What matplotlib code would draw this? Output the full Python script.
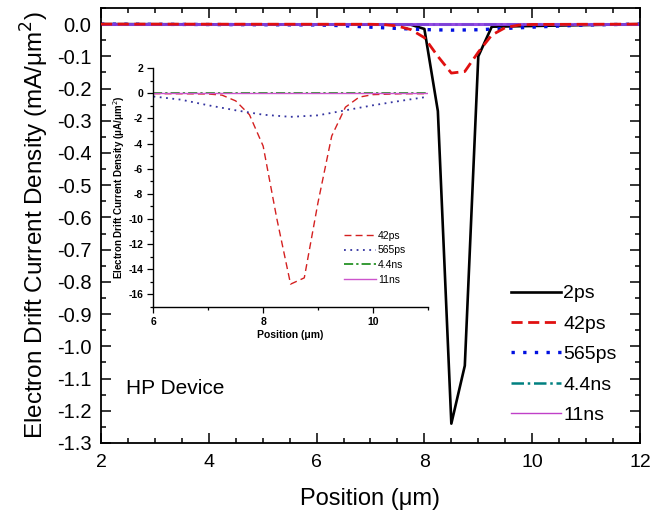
import numpy as np
import matplotlib
matplotlib.use("Agg")
import matplotlib.pyplot as plt
from matplotlib.ticker import MultipleLocator

plt.rcParams['font.family'] = ['Liberation Sans', 'DejaVu Sans']
plt.rcParams['axes.unicode_minus'] = False

# === Main panel data: drift current density, mA/um^2 ===
pos_2ps = [2.0, 7.75, 8.0, 8.25, 8.5, 8.75, 9.0, 9.25, 12.0]
j_2ps = [0.0, -0.002, -0.015, -0.27, -1.24, -1.06, -0.10, -0.008, 0.0]

pos_42ps = [2.0, 7.0, 7.25, 7.5, 7.75, 8.0, 8.25, 8.5, 8.75, 9.0, 9.25,
            9.5, 9.75, 10.0, 12.0]
j_42ps = [0.0, -0.0005, -0.0014, -0.006, -0.017, -0.042, -0.100, -0.152,
          -0.147, -0.087, -0.034, -0.011, -0.003, -0.001, 0.0]

pos_565ps = [2.0, 6.0, 6.5, 7.0, 7.5, 8.0, 8.5, 9.0, 9.5, 10.0, 10.5, 11.0, 12.0]
j_565ps = [0.0, -0.0025, -0.005, -0.0095, -0.0135, -0.017, -0.0187, -0.0175,
           -0.0135, -0.0095, -0.006, -0.0027, 0.0]

pos_flat = [2.0, 12.0]
j_44ns = [0.0, 0.0]
j_11ns = [0.0, 0.0]

# === Inset data: drift current density, uA/um^2 ===
in_pos_42ps = [6.0, 6.5, 7.0, 7.25, 7.5, 7.75, 8.0, 8.25, 8.5, 8.75, 9.0,
               9.25, 9.5, 9.75, 10.0, 10.5, 11.0]
in_j_42ps = [-0.02, -0.03, -0.05, -0.14, -0.6, -1.7, -4.2, -10.0, -15.2,
             -14.7, -8.7, -3.4, -1.1, -0.3, -0.1, -0.03, -0.02]

in_pos_565ps = [6.0, 6.5, 7.0, 7.5, 8.0, 8.5, 9.0, 9.5, 10.0, 10.5, 11.0]
in_j_565ps = [-0.25, -0.5, -0.95, -1.35, -1.7, -1.87, -1.75, -1.35, -0.95,
              -0.6, -0.27]

in_pos_flat = [6.0, 11.0]
in_j_44ns = [0.0, 0.0]
in_j_11ns = [0.0, 0.0]


fig = plt.figure(figsize=(6.61, 5.13), dpi=100)

# --- main axes ---
ax = fig.add_axes([0.1528, 0.1365, 0.8154, 0.8479])
ax.plot(pos_2ps, j_2ps, color='black', lw=1.9, label='2ps', zorder=2.0)
ax.plot(pos_42ps, j_42ps, color='#e01010', lw=2.0, ls=(0, (4, 2)), label='42ps', zorder=2.9)
ax.plot(pos_565ps, j_565ps, color='#0010e0', lw=2.4, ls=(0, (1, 2.5)), label='565ps', zorder=2.1)
ax.plot(pos_flat, j_44ns, color='#008080', lw=1.8, ls=(0, (5, 1.5, 1, 1.5)), label='4.4ns', zorder=2.2)
# 11ns lies on the zero line over the other traces; drawn wider so the
# overlapped zero line reads as one violet stroke
ax.plot(pos_flat, j_11ns, color='#8a3ae0', lw=2.2, alpha=0.9, label='11ns', zorder=2.5)

ax.set_xlim(2, 12)
ax.set_ylim(-1.3, 0.05)
ax.xaxis.set_major_locator(MultipleLocator(2))
ax.xaxis.set_minor_locator(MultipleLocator(0.5))
ax.yaxis.set_major_locator(MultipleLocator(0.1))
ax.yaxis.set_minor_locator(MultipleLocator(0.05))
ax.yaxis.set_major_formatter(plt.FuncFormatter(lambda v, p: f'{v:.1f}' if abs(v) > 1e-9 else '0.0'))
ax.tick_params(which='both', direction='in', top=True, right=True, width=1.1)
ax.tick_params(which='major', length=7)
ax.tick_params(which='minor', length=3.5)
ax.tick_params(axis='x', labelsize=14, pad=8)
ax.tick_params(axis='y', labelsize=14.5, pad=7)
for s in ax.spines.values():
    s.set_linewidth(1.3)

ax.set_xlabel('Position (\u03bcm)', fontsize=17, labelpad=12)
ax.set_ylabel('Electron Drift Current Density (mA/\u03bcm$^2$)', fontsize=17.5, labelpad=4)
ax.text(0.046, 0.126, 'HP Device', transform=ax.transAxes, fontsize=15,
        va='center', ha='left')

leg = ax.legend(loc='upper left', bbox_to_anchor=(0.735, 0.395), frameon=False,
                fontsize=14, handlelength=2.6, handletextpad=0.1,
                labelspacing=0.66, borderpad=0.2)
# legend key for 11ns is a thin magenta line
h11 = leg.get_lines()[-1]
h11.set_alpha(1.0)
h11.set_color('#c040c8')
h11.set_linewidth(1.0)

# --- inset ---
axi = fig.add_axes([0.2322, 0.4021, 0.4148, 0.4648])
axi.plot(in_pos_42ps, in_j_42ps, color='#d42020', lw=1.0, ls=(0, (5, 3)), label='42ps')
axi.plot(in_pos_565ps, in_j_565ps, color='#3333a0', lw=1.3, ls=(0, (1, 2.5)), label='565ps')
axi.plot(in_pos_flat, in_j_44ns, color='#008000', lw=1.1, ls=(0, (6, 2, 1.5, 2)), label='4.4ns')
axi.plot(in_pos_flat, in_j_11ns, color='#cc55cc', lw=1.0, label='11ns')

axi.set_xlim(6, 11)
axi.set_ylim(-17, 2)
axi.set_facecolor('none')
axi.spines['top'].set_visible(False)
axi.spines['right'].set_visible(False)
for s in ('left', 'bottom'):
    axi.spines[s].set_linewidth(1.0)
axi.xaxis.set_major_locator(MultipleLocator(2))
axi.xaxis.set_minor_locator(MultipleLocator(1))
axi.yaxis.set_major_locator(MultipleLocator(2))
axi.yaxis.set_minor_locator(MultipleLocator(1))
axi.tick_params(which='both', direction='out', labelsize=7.5, width=0.9)
axi.tick_params(which='major', length=4)
axi.tick_params(which='minor', length=2.5)
for lab in axi.get_xticklabels() + axi.get_yticklabels():
    lab.set_fontweight('bold')
axi.set_xlabel('Position (\u03bcm)', fontsize=7.5, fontweight='bold', labelpad=2)
axi.set_ylabel('Electron Drift Current Density (\u03bcA/\u03bcm$^2$)', fontsize=7,
               fontweight='bold', labelpad=1)
axi.legend(loc='upper left', bbox_to_anchor=(0.67, 0.35), frameon=False,
           fontsize=7.5, handlelength=3.0, handletextpad=0.2,
           labelspacing=0.45, borderpad=0.2)

fig.savefig('out.png', dpi=100)
